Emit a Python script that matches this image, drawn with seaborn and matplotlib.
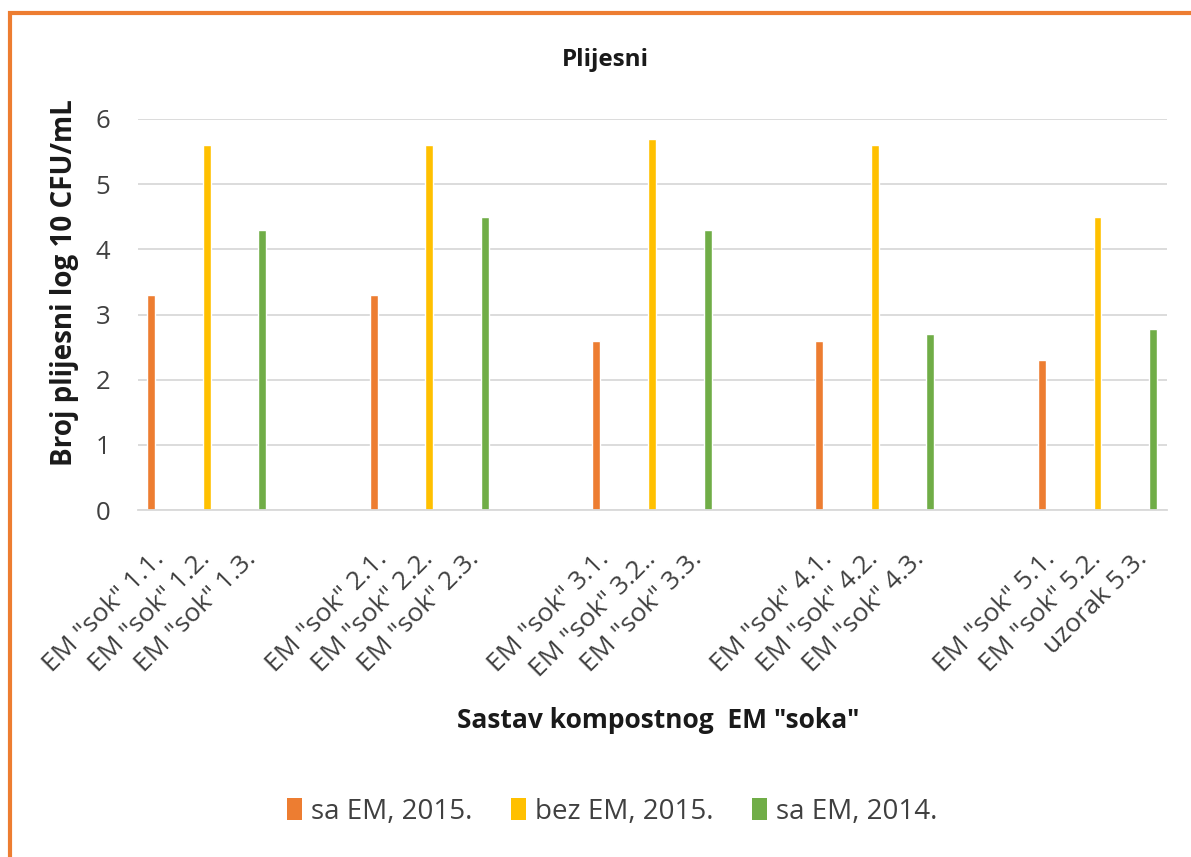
import pandas as pd
import seaborn as sns
import matplotlib.pyplot as plt
from matplotlib.patches import Patch, Rectangle
from matplotlib.transforms import ScaledTranslation

# Category labels (blank strings are the empty gap slots between groups)
categories = [
    'EM "sok" 1.1.', 'EM "sok" 1.2.', 'EM "sok" 1.3.', ' ',
    'EM "sok" 2.1.', 'EM "sok" 2.2.', 'EM "sok" 2.3.', '  ',
    'EM "sok" 3.1.', 'EM "sok" 3.2..', 'EM "sok" 3.3.', '   ',
    'EM "sok" 4.1.', 'EM "sok" 4.2.', 'EM "sok" 4.3.', '    ',
    'EM "sok" 5.1.', 'EM "sok" 5.2.', 'uzorak 5.3.',
]

series_names = ["sa EM, 2015.", "bez EM, 2015.", "sa EM, 2014."]

# one value per sample
sa_em_2015_labels = ['EM "sok" 1.1.', 'EM "sok" 2.1.', 'EM "sok" 3.1.', 'EM "sok" 4.1.', 'EM "sok" 5.1.']
sa_em_2015_values = [3.3, 3.3, 2.6, 2.6, 2.3]

bez_em_2015_labels = ['EM "sok" 1.2.', 'EM "sok" 2.2.', 'EM "sok" 3.2..', 'EM "sok" 4.2.', 'EM "sok" 5.2.']
bez_em_2015_values = [5.6, 5.6, 5.7, 5.6, 4.5]

sa_em_2014_labels = ['EM "sok" 1.3.', 'EM "sok" 2.3.', 'EM "sok" 3.3.', 'EM "sok" 4.3.', 'uzorak 5.3.']
sa_em_2014_values = [4.3, 4.5, 4.3, 2.7, 2.78]

colors = ["#ED7D31", "#FFC000", "#70AD47"]
FONT = "Open Sans"

# horizontal nudge (px) of rotated labels by position in group; the labels
# of a group sit a bit closer together than the bars
label_nudge = [14, 4.5, -5, 0]


def build_frame():
    rows = []
    for name, labels, values in [
        (series_names[0], sa_em_2015_labels, sa_em_2015_values),
        (series_names[1], bez_em_2015_labels, bez_em_2015_values),
        (series_names[2], sa_em_2014_labels, sa_em_2014_values),
    ]:
        for lab, val in zip(labels, values):
            rows.append({"Uzorak": lab, "Vrijednost": val, "Serija": name})
    return pd.DataFrame(rows)


def main():
    df = build_frame()

    sns.set_style("white")
    plt.rcParams["font.family"] = [FONT, "DejaVu Sans"]

    fig = plt.figure(figsize=(11.91, 8.57), dpi=100)
    ax = fig.add_axes([138 / 1191, 1 - 510 / 857, (1167 - 138) / 1191, (510 - 119) / 857])

    sns.barplot(data=df, x="Uzorak", y="Vrijednost", hue="Serija", order=categories,
                hue_order=series_names, palette=colors, dodge=False, width=0.14,
                saturation=1, ax=ax, legend=False)

    ax.set_xlim(-0.233, 18.25)
    ax.set_ylim(0, 6)
    ax.set_yticks(range(0, 7))
    ax.yaxis.grid(True, color="#d9d9d9", linewidth=1.3)
    ax.set_axisbelow(True)
    for side in ["top", "right", "left"]:
        ax.spines[side].set_visible(False)
    ax.spines["bottom"].set_color("#d9d9d9")
    ax.spines["bottom"].set_linewidth(1.3)
    ax.tick_params(axis="both", length=0)
    ax.tick_params(axis="y", pad=20, labelsize=18.5, labelcolor="#404040")
    ax.tick_params(axis="x", pad=36, labelsize=19, labelcolor="#404040")
    ax.set_xlabel("")
    ax.set_ylabel("")
    for i, lab in enumerate(ax.get_xticklabels()):
        shift = ScaledTranslation(label_nudge[i % 4] / 100, 0, fig.dpi_scale_trans)
        lab.set_rotation(45)
        lab.set_ha("right")
        lab.set_va("baseline")
        lab.set_rotation_mode("anchor")
        lab.set_transform(lab.get_transform() + shift)

    fig.text(605 / 1191, 1 - 60 / 857, "Plijesni", ha="center", va="center",
             fontsize=17.5, fontweight="bold", color="#1a1a1a")
    fig.text(65 / 1191, 1 - 283 / 857, "Broj plijesni log 10 CFU/mL", ha="center", va="center",
             rotation=90, fontsize=20, fontweight="bold", color="#1a1a1a")
    fig.text(658 / 1191, 1 - 720 / 857, 'Sastav kompostnog  EM "soka"', ha="center", va="center",
             fontsize=19, fontweight="bold", color="#1a1a1a")

    handles = [Patch(facecolor=c, edgecolor="none") for c in colors]
    fig.legend(handles, series_names, loc="center", bbox_to_anchor=(612 / 1191, 1 - 812 / 857),
               ncol=3, frameon=False, fontsize=20, handlelength=0.55, handleheight=0.85,
               handletextpad=0.3, columnspacing=1.4, labelcolor="#404040")

    # orange chart-area border (only top and left edges are in the crop)
    fig.patches.append(Rectangle((9.5 / 1191, -0.1), 1.2, 1.1 - 13.5 / 857, transform=fig.transFigure,
                                 fill=False, edgecolor="#ED7D31", linewidth=3, clip_on=False))

    fig.savefig("out.png", dpi=100)


if __name__ == "__main__":
    main()
